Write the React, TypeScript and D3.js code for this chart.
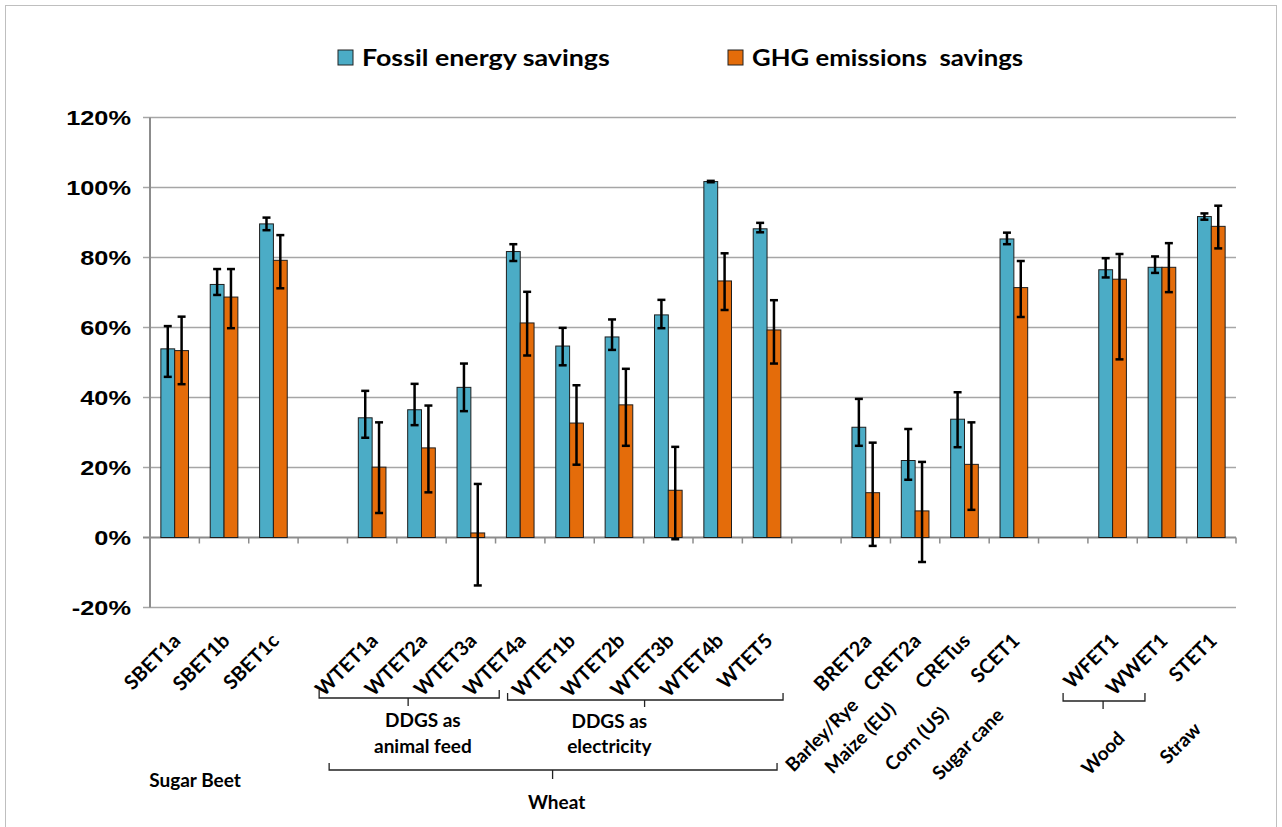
import React from 'react';
import * as d3 from 'd3';

// slots on the category axis, "" = empty slot between groups
const categories = [
  'SBET1a', 'SBET1b', 'SBET1c', '',
  'WTET1a', 'WTET2a', 'WTET3a', 'WTET4a', 'WTET1b', 'WTET2b', 'WTET3b', 'WTET4b', 'WTET5', '',
  'BRET2a', 'CRET2a', 'CRETus', 'SCET1', '',
  'WFET1', 'WWET1', 'STET1',
];

// values in %
const fossil = [53.9, 72.3, 89.6, null, 34.2, 36.5, 42.9, 81.7, 54.7, 57.3, 63.6, 101.7, 88.2, null, 31.5, 22.0, 33.8, 85.3, null, 76.5, 77.2, 91.7];
const fossilHi = [60.4, 76.7, 91.4, null, 41.9, 43.9, 49.7, 83.8, 59.9, 62.3, 67.9, 101.9, 89.9, null, 39.6, 31.0, 41.5, 87.1, null, 79.8, 80.3, 92.6];
const fossilLo = [45.9, 69.3, 87.8, null, 28.5, 32.1, 36.1, 79.0, 49.2, 53.6, 59.8, 101.5, 87.2, null, 26.2, 16.5, 25.8, 83.8, null, 74.3, 75.6, 90.8];

const ghg = [53.4, 68.7, 79.2, null, 20.1, 25.6, 1.3, 61.3, 32.7, 37.9, 13.5, 73.3, 59.3, null, 12.8, 7.6, 20.9, 71.4, null, 73.8, 77.2, 88.9];
const ghgHi = [63.1, 76.7, 86.4, null, 32.9, 37.7, 15.3, 70.2, 43.5, 48.2, 25.9, 81.2, 67.8, null, 27.1, 21.6, 32.9, 79.0, null, 81.0, 84.1, 94.8];
const ghgLo = [43.8, 59.8, 71.2, null, 7.0, 12.9, -13.7, 52.0, 20.8, 26.2, -0.5, 65.0, 49.7, null, -2.4, -7.0, 7.9, 63.0, null, 50.9, 70.1, 82.6];

const yTicks = [-20, 0, 20, 40, 60, 80, 100, 120];

const seriesNames = ['Fossil energy savings', 'GHG emissions  savings'];
const colors = ['#4BACC6', '#E46C0A'];

// rotated group labels under the category labels
const subLabels = [
  { slot: 14, text: 'Barley/Rye', dx: -44, y: 735 },
  { slot: 15, text: 'Maize (EU)', dx: -55, y: 738 },
  { slot: 16, text: 'Corn (US)', dx: -48, y: 739 },
  { slot: 17, text: 'Sugar cane', dx: -46, y: 744 },
  { slot: 20, text: 'Wood', dx: -59, y: 753 },
  { slot: 21, text: 'Straw', dx: -31, y: 743 },
];

const W = 1282, H = 827;
const left = 150, right = 1236, top = 117.5, bottom = 607.5;
const calibri = 'Lato, "Noto Sans", sans-serif';

const App = () => {
  const slots = d3.range(categories.length);
  const x = d3.scaleBand<number>().domain(slots).range([left, right]).paddingInner(0.44).paddingOuter(0.22);
  const xs = d3.scaleBand<number>().domain([0, 1]).range([0, x.bandwidth()]);
  const y = d3.scaleLinear().domain([-20, 120]).range([bottom, top]);
  const cx = (i: number) => (x(i) as number) + x.bandwidth() / 2;
  const step = x.step();
  const boundaries = d3.range(categories.length + 1).map(k => left + k * step);

  const series = [
    { vals: fossil, hi: fossilHi, lo: fossilLo },
    { vals: ghg, hi: ghgHi, lo: ghgLo },
  ];

  // bracket: horizontal line with end ticks up and a middle tick down
  const bracket = (x0: number, x1: number, yb: number, xm: number, up = 8, down = 8) =>
    `M${x0},${yb - up}L${x0},${yb}L${x1},${yb}L${x1},${yb - up}M${xm},${yb}L${xm},${yb + down}`;

  return (
    <svg width={W} height={H} style={{ position: 'absolute', left: 0, top: 0, background: '#fff' }}>
      <rect x={5.5} y={5.5} width={1271} height={840} fill="#fff" stroke="#bfbfbf" />

      {/* legend */}
      {seriesNames.map((s, i) => {
        const lx = i === 0 ? 338 : 728;
        return (
          <g key={s}>
            <rect x={lx} y={50} width={15} height={15} fill={colors[i]} stroke="#222" strokeWidth={1} />
            <text transform={`translate(${lx + 24},66) scale(${i === 0 ? 1.22 : 1.17},1)`} xmlSpace="preserve"
              style={{ whiteSpace: 'pre' }} fontFamily={calibri} fontWeight="bold" fontSize={22} fill="#000">{s}</text>
          </g>
        );
      })}

      {/* gridlines + y labels */}
      {yTicks.map(t => (
        <g key={t}>
          <line x1={left - 7} x2={right} y1={y(t)} y2={y(t)} stroke={t === 0 ? '#8c8c8c' : '#a6a6a6'} strokeWidth={t === 0 ? 2 : 1.5} />
          <text transform={`translate(131,${y(t)}) scale(1.3,1)`} dy="0.36em" textAnchor="end"
            fontFamily='"Liberation Sans", Arial, sans-serif' fontWeight="bold" fontSize={19.5}>{t}%</text>
        </g>
      ))}
      <line x1={left} x2={left} y1={top} y2={bottom} stroke="#8c8c8c" strokeWidth={2} />
      {boundaries.slice(1).map((b, k) => (
        <line key={k} x1={b} x2={b} y1={y(0)} y2={y(0) + 6} stroke="#8c8c8c" strokeWidth={1.5} />
      ))}

      {/* bars */}
      {series.map((s, si) => (
        <g key={si}>
          {slots.map(i => s.vals[i] == null ? null : (
            <rect key={i}
              x={(x(i) as number) + (xs(si) as number)}
              y={Math.min(y(s.vals[i] as number), y(0))}
              width={xs.bandwidth()}
              height={Math.abs(y(0) - y(s.vals[i] as number))}
              fill={colors[si]} stroke="#1e1e1e" strokeWidth={1} />
          ))}
        </g>
      ))}

      {/* error bars */}
      {series.map((s, si) => (
        <g key={'e' + si} stroke="#000" strokeWidth={2.5}>
          {slots.map(i => {
            if (s.vals[i] == null) return null;
            const ex = (x(i) as number) + (xs(si) as number) + xs.bandwidth() / 2;
            const yh = y(s.hi[i] as number), yl = y(s.lo[i] as number);
            return (
              <g key={i}>
                <line x1={ex} x2={ex} y1={yh} y2={yl} />
                <line x1={ex - 4} x2={ex + 4} y1={yh} y2={yh} />
                <line x1={ex - 4} x2={ex + 4} y1={yl} y2={yl} />
              </g>
            );
          })}
        </g>
      ))}

      {/* category labels */}
      {slots.map(i => categories[i] ? (
        <text key={i} transform={`translate(${cx(i) + 7},${642}) rotate(-45)`} textAnchor="end"
          fontFamily={calibri} fontWeight="bold" fontSize={20}>{categories[i]}</text>
      ) : null)}

      {/* group annotations */}
      <g fill="none" stroke="#222" strokeWidth={1.3}>
        <path d={bracket(cx(4) - 53, cx(7) - 21, 698, cx(4) - 53 + 89)} />
        <path d={bracket(cx(8) - 62, cx(12) + 16, 700, cx(8) + 75, 7, 7)} />
        <path d={bracket(cx(4) - 43, cx(12) + 10, 770, cx(8) - 17, 7, 9)} />
        <path d={bracket(cx(19) - 49.5, cx(20) - 17, 701, cx(19) - 9.5, 8, 8)} />
      </g>
      <g fontFamily={calibri} fontWeight="bold" fontSize={19} textAnchor="middle">
        <text x={cx(6) - 48} y={727}>DDGS as</text>
        <text x={cx(6) - 48} y={753}>animal feed</text>
        <text x={cx(10) - 59} y={728}>DDGS as</text>
        <text x={cx(10) - 59} y={753}>electricity</text>
        <text x={cx(8) - 13} y={809}>Wheat</text>
        <text x={195} y={787}>Sugar Beet</text>
      </g>
      {subLabels.map(l => (
        <text key={l.text} transform={`translate(${cx(l.slot) + l.dx},${l.y}) rotate(-45)`} textAnchor="middle"
          dy="0.35em" fontFamily={calibri} fontWeight="bold" fontSize={19}>{l.text}</text>
      ))}
    </svg>
  );
};

export default App;
